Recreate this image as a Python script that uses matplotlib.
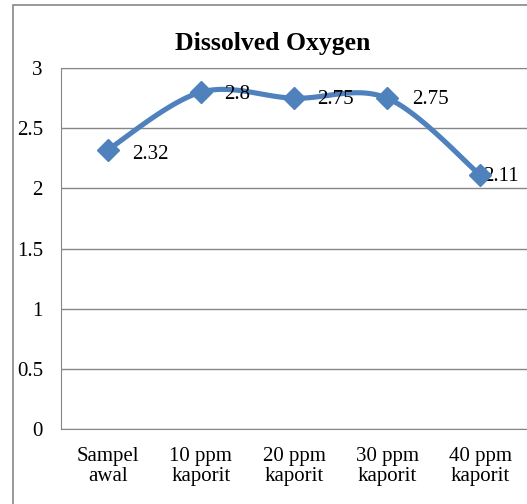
import matplotlib.pyplot as plt
import numpy as np
from matplotlib.patches import Rectangle

categories = ['Sampel\nawal', '10 ppm\nkaporit', '20 ppm\nkaporit', '30 ppm\nkaporit', '40 ppm\nkaporit']
values = [2.32, 2.8, 2.75, 2.75, 2.11]
labels = ['2.32', '2.8', '2.75', '2.75', '2.11']
label_offsets = [(18, -3), (17, -2), (17, -1), (18, -1), (2, -1)]

plt.rcParams['font.family'] = ['Liberation Serif', 'DejaVu Serif']

def smooth(x, y, n=30):
    # catmull-rom style smoothing like excel's smoothed line
    x = np.asarray(x, float)
    y = np.asarray(y, float)
    px = np.concatenate([[x[0]], x, [x[-1]]])
    py = np.concatenate([[y[0]], y, [y[-1]]])
    xs, ys = [], []
    t = np.linspace(0, 1, n)
    for i in range(1, len(px) - 2):
        p0, p1, p2, p3 = (np.array([px[j], py[j]]) for j in range(i - 1, i + 3))
        c1 = p1 + (p2 - p0) / 6
        c2 = p2 - (p3 - p1) / 6
        b = ((1 - t) ** 3)[:, None] * p1 + (3 * (1 - t) ** 2 * t)[:, None] * c1 \
            + (3 * (1 - t) * t ** 2)[:, None] * c2 + (t ** 3)[:, None] * p2
        xs.extend(b[:, 0])
        ys.extend(b[:, 1])
    return np.array(xs), np.array(ys)

fig = plt.figure(figsize=(5.27, 5.04), dpi=100)
fig.patches.append(Rectangle((0.0247, -0.1), 1.2, 1.09, transform=fig.transFigure,
                             fill=False, edgecolor='#888888', linewidth=1.2))

ax = fig.add_axes([0.1157, 0.1488, 0.8843, 0.716])
x = np.arange(len(values))
sx, sy = smooth(x, values)
ax.plot(sx, sy, color='#4F81BD', linewidth=3.7, solid_capstyle='round', zorder=3)
ax.plot(x, values, linestyle='none', marker='D', markersize=11, color='#4F81BD', zorder=4)
for xi, v, lab, off in zip(x, values, labels, label_offsets):
    ax.annotate(lab, (xi, v), xytext=off, textcoords='offset points',
                ha='left', va='center', fontsize=15)

ax.set_xlim(-0.5, len(values) - 0.5)
ax.set_ylim(0, 3)
ax.set_yticks(np.arange(0, 3.01, 0.5))
ax.set_yticklabels(['0', '0.5', '1', '1.5', '2', '2.5', '3'])
ax.set_xticks(x)
ax.set_xticklabels(categories, linespacing=1.1)
ax.grid(axis='y', color='#868686', linewidth=1)
ax.set_axisbelow(True)
ax.tick_params(length=0, labelsize=15)
ax.tick_params(axis='x', pad=13)
ax.tick_params(axis='y', pad=13)
for s in ['left', 'bottom', 'top']:
    ax.spines[s].set_color('#868686')
ax.spines['right'].set_visible(False)

fig.text(0.518, 0.913, 'Dissolved Oxygen', ha='center', va='center', fontsize=18.5, fontweight='bold')

fig.savefig('out.png', dpi=100)
